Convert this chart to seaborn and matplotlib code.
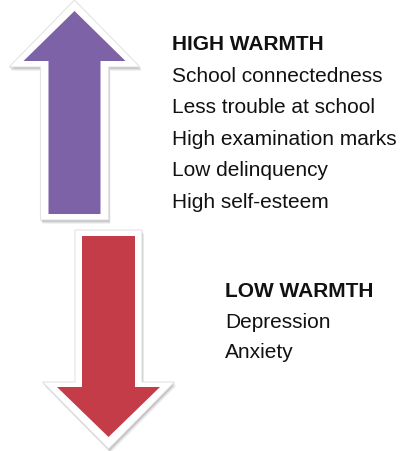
import matplotlib

matplotlib.use("Agg")
import matplotlib.pyplot as plt
import seaborn as sns
from matplotlib.patches import Polygon

# ---------------------------------------------------------------- content
high_title = "HIGH WARMTH"
high_items = ["School connectedness", "Less trouble at school",
              "High examination marks", "Low delinquency", "High self-esteem"]
low_title = "LOW WARMTH"
low_items = ["Depression", "Anxiety"]

# text baselines (pixels from top)
high_rows = [50, 81.5, 113, 145, 176.5, 208]
low_rows = [297, 328, 358]

PURPLE = "#7D62A7"
RED = "#C33C47"


def arrow_poly(cx, start, head_y, tip, shaft_hw, head_hw):
    # start = flat end of the shaft, tip = point of the head
    return [(cx - shaft_hw, start), (cx - shaft_hw, head_y),
            (cx - head_hw, head_y), (cx, tip), (cx + head_hw, head_y),
            (cx + shaft_hw, head_y), (cx + shaft_hw, start)]


def draw_arrow(ax, cx, inner, outer, color):
    out = arrow_poly(cx, *outer)
    # soft shadow: a few faint offset copies
    for k, a in [(4, 0.05), (3, 0.07), (2, 0.09), (1, 0.12)]:
        ax.add_patch(Polygon([(x + 0.5 * k, y + k) for x, y in out],
                             closed=True, facecolor="black", alpha=a,
                             edgecolor="none", zorder=1))
    ax.add_patch(Polygon(out, closed=True, facecolor="white",
                         edgecolor="#e4e4e4", lw=0.8, zorder=2))
    ax.add_patch(Polygon(arrow_poly(cx, *inner), closed=True,
                         facecolor=color, edgecolor="none", zorder=3))


sns.set_theme(style="white")
plt.rcParams["font.family"] = ["Liberation Sans", "DejaVu Sans"]

fig = plt.figure(figsize=(4.0, 4.52), dpi=100)
ax = fig.add_axes([0, 0, 1, 1])
ax.set_xlim(0, 400)
ax.set_ylim(452, 0)
ax.axis("off")

draw_arrow(ax, 74.5, (215, 62, 12, 26, 51), (221, 68, 1, 34, 65.5), PURPLE)
draw_arrow(ax, 108.5, (237, 388, 438, 26.5, 51.5), (231, 383, 450, 33.5, 66), RED)

FS = 15
ax.text(172, high_rows[0], high_title, fontsize=FS, fontweight="bold",
        va="baseline", ha="left", color="#111111")
for label, y in zip(high_items, high_rows[1:]):
    ax.text(172, y, label, fontsize=FS, va="baseline", ha="left", color="#111111")

ax.text(225, low_rows[0], low_title, fontsize=FS, fontweight="bold",
        va="baseline", ha="left", color="#111111")
for label, y in zip(low_items, low_rows[1:]):
    ax.text(225, y, label, fontsize=FS, va="baseline", ha="left", color="#111111")

fig.savefig("out.png", dpi=100, facecolor="white")
plt.close(fig)
